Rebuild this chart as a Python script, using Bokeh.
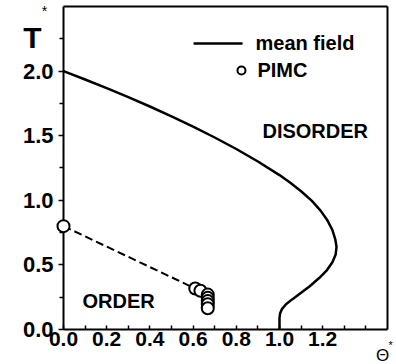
from bokeh.plotting import figure
from bokeh.models import FixedTicker, Range1d, Label, LinearAxis, PrintfTickFormatter
from bokeh.embed import file_html
from bokeh.resources import INLINE

# Mean-field phase boundary T*(Theta*)
mf_theta = [0.0, 0.1, 0.2, 0.3, 0.4, 0.5, 0.6, 0.7, 0.8, 0.9, 1.0, 1.05, 1.1, 1.15,
            1.19, 1.22, 1.245, 1.258, 1.264, 1.26, 1.245, 1.22, 1.185, 1.14, 1.1,
            1.06, 1.03, 1.012, 1.003, 1.0, 1.0]
mf_temp = [2.0, 1.935, 1.868, 1.798, 1.726, 1.65, 1.57, 1.486, 1.397, 1.30, 1.195,
           1.135, 1.07, 0.995, 0.92, 0.85, 0.77, 0.70, 0.64, 0.58, 0.52, 0.46, 0.40,
           0.335, 0.285, 0.235, 0.195, 0.16, 0.125, 0.09, 0.0]

# Path-integral Monte Carlo points
pimc_theta = [0.0, 0.61, 0.634, 0.668, 0.668, 0.668, 0.668, 0.668]
pimc_temp = [0.80, 0.317, 0.30, 0.27, 0.245, 0.22, 0.195, 0.165]

# Dashed guide through the PIMC boundary
dash_theta = [0.0, 0.61]
dash_temp = [0.80, 0.317]

x_major = [0.0, 0.2, 0.4, 0.6, 0.8, 1.0, 1.2]
x_minor = [0.1, 0.3, 0.5, 0.7, 0.9, 1.1, 1.3, 1.4]
y_major = [0.0, 0.5, 1.0, 1.5, 2.0]
y_minor = [0.25, 0.75, 1.25, 1.75, 2.25]
x_box = (0.0, 1.5)
y_box = (0.0, 2.5)

FONT = "Liberation Sans"

# The plotting area fills the canvas; the boxed axes sit inside it so that
# markers on the border and the axis titles are not clipped.
p = figure(width=396, height=364, output_backend="svg", toolbar_location=None,
           x_range=Range1d(-0.2917, 1.5417), y_range=Range1d(-0.2709, 2.5464),
           x_axis_type=None, y_axis_type=None,
           min_border_left=0, min_border_right=0, min_border_top=0, min_border_bottom=0)
p.grid.visible = False
p.outline_line_color = None
p.background_fill_color = "white"
p.border_fill_color = "white"


def style_labels(ax, size):
    ax.major_label_text_font = FONT
    ax.major_label_text_font_style = "bold"
    ax.major_label_text_font_size = size
    ax.major_label_text_color = "black"
    ax.formatter = PrintfTickFormatter(format="%.1f")


xa = LinearAxis(ticker=FixedTicker(ticks=x_major, minor_ticks=x_minor),
                fixed_location=y_box[0], bounds=x_box)
xa.major_tick_in = 4
xa.major_tick_out = 0
xa.minor_tick_in = 4
xa.minor_tick_out = 0
xa.axis_line_width = 2
xa.major_tick_line_width = 1.5
xa.minor_tick_line_width = 1.5
xa.major_label_standoff = 3
style_labels(xa, "21px")
p.add_layout(xa, "below")

ya = LinearAxis(ticker=FixedTicker(ticks=y_major, minor_ticks=y_minor),
                fixed_location=x_box[0], bounds=y_box)
ya.major_tick_in = 0
ya.major_tick_out = 5
ya.minor_tick_in = 0
ya.minor_tick_out = 4
ya.axis_line_width = 2
ya.major_tick_line_width = 1.5
ya.minor_tick_line_width = 1.5
ya.major_label_standoff = 5
style_labels(ya, "22px")
p.add_layout(ya, "left")

# Plain top and right edges of the box
top = LinearAxis(ticker=FixedTicker(ticks=[]), fixed_location=y_box[1], bounds=x_box,
                 major_label_text_font_size="0px")
top.axis_line_width = 2
top.major_tick_line_color = None
top.minor_tick_line_color = None
p.add_layout(top, "above")

right = LinearAxis(ticker=FixedTicker(ticks=[]), fixed_location=x_box[1], bounds=y_box,
                   major_label_text_font_size="0px")
right.axis_line_width = 2
right.major_tick_line_color = None
right.minor_tick_line_color = None
p.add_layout(right, "right")

p.line(mf_theta, mf_temp, line_color="black", line_width=2.5)
p.line(dash_theta, dash_temp, line_color="black", line_width=2, line_dash="8 4")
pts = p.scatter(pimc_theta, pimc_temp, marker="circle", size=12, fill_color="white",
                line_color="black", line_width=2)
pts.level = "overlay"

# Legend drawn by hand
p.line([0.602, 0.829], [2.214, 2.214], line_color="black", line_width=2.5)
p.scatter([0.824], [2.005], marker="circle", size=8, fill_color="white",
          line_color="black", line_width=2)


def add_text(x, y, text, size, bold=True, align="left", baseline="middle"):
    p.add_layout(Label(x=x, y=y, text=text, text_font=FONT,
                       text_font_size=size, text_font_style="bold" if bold else "normal",
                       text_align=align, text_baseline=baseline, text_color="black"))


add_text(0.889, 2.214, "mean field", "20px")
add_text(0.898, 2.005, "PIMC", "20px")
add_text(0.921, 1.54, "DISORDER", "20px")
add_text(0.088, 0.224, "ORDER", "20px")

# Axis titles
add_text(-0.1435, 2.26, "T", "30px", align="center", baseline="alphabetic")
add_text(-0.088, 2.53, "*", "14px", bold=False, align="center", baseline="top")
add_text(1.477, -0.205, "Θ", "17px", bold=False, align="center", baseline="alphabetic")
add_text(1.515, -0.07, "*", "11px", bold=False, align="center", baseline="top")

open("out.html", "w").write(file_html(p, INLINE))
